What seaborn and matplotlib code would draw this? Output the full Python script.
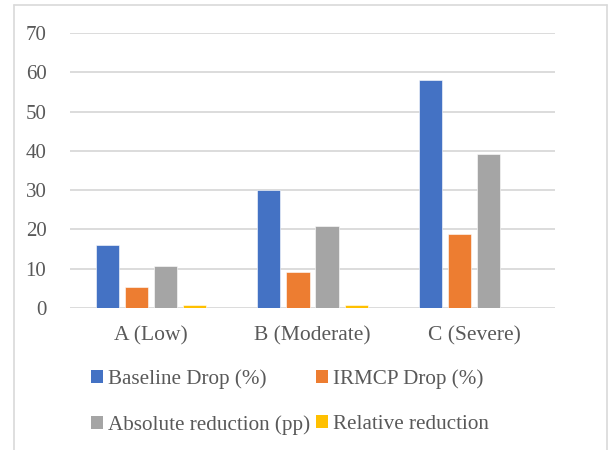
import numpy as np
import pandas as pd
import matplotlib
matplotlib.use("Agg")
import matplotlib.pyplot as plt
from matplotlib.lines import Line2D
from matplotlib.patches import Patch
import seaborn as sns

# Scenario data
categories = ["A (Low)", "B (Moderate)", "C (Severe)"]
baseline_drop = [16.0, 30.0, 58.0]
irmcp_drop = [5.3, 9.2, 18.8]
absolute_reduction = [10.7, 20.8, 39.2]
relative_reduction = [0.67, 0.69, np.nan]

series_names = ["Baseline Drop (%)", "IRMCP Drop (%)",
                "Absolute reduction (pp)", "Relative reduction"]
series_values = [baseline_drop, irmcp_drop, absolute_reduction, relative_reduction]
colors = ["#4472C4", "#ED7D31", "#A5A5A5", "#FFC000"]

df = pd.DataFrame({
    "category": categories * len(series_names),
    "series": [s for s in series_names for _ in categories],
    "value": [v for vals in series_values for v in vals],
})

sns.set_theme(style="white")
plt.rcParams["font.family"] = ["Liberation Serif", "DejaVu Serif"]
text_color = "#595959"
grid_color = "#D9D9D9"

fig = plt.figure(figsize=(6.08, 4.5), dpi=100)
ax = fig.add_axes([70 / 608, 1 - 308 / 450, 485 / 608, 275 / 450])

sns.barplot(data=df, x="category", y="value", hue="series",
            hue_order=series_names, palette=colors, order=categories,
            width=0.72, gap=0.2, ax=ax, legend=False, saturation=1,
            edgecolor="white", linewidth=0.4)

ax.set_ylim(0, 70)
ax.set_xlim(-0.5, 2.5)
ax.set_yticks(range(0, 71, 10))
ax.yaxis.grid(True, color=grid_color, linewidth=1.3)
ax.set_axisbelow(True)
for s in ax.spines.values():
    s.set_visible(False)
ax.set_xlabel("")
ax.set_ylabel("")
ax.tick_params(axis="y", length=0, pad=17, labelsize=15, labelcolor=text_color)
ax.tick_params(axis="x", length=0, pad=13, labelsize=15.5, labelcolor=text_color)

# Legend below the plot, filled row by row
order = [0, 2, 1, 3]
handles = [Patch(facecolor=colors[i], edgecolor="none") for i in order]
labels = [series_names[i] for i in order]
fig.legend(handles, labels, ncol=2, loc="upper left",
           bbox_to_anchor=(91 / 608, 1 - 369 / 450), frameon=False,
           fontsize=15.2, labelcolor=text_color, handlelength=0.55,
           handleheight=0.55, handletextpad=0.25, columnspacing=0.3,
           labelspacing=1.25, borderpad=0, borderaxespad=0)

# Chart frame
for xs, ys in [([13.5, 13.5], [0, 445]), ([13.5, 606.5], [445, 445]),
               ([606.5, 606.5], [445, 0])]:
    fig.add_artist(Line2D([x / 608 for x in xs], [y / 450 for y in ys],
                          color=grid_color, linewidth=1.2))

fig.savefig("out.png", dpi=100)
